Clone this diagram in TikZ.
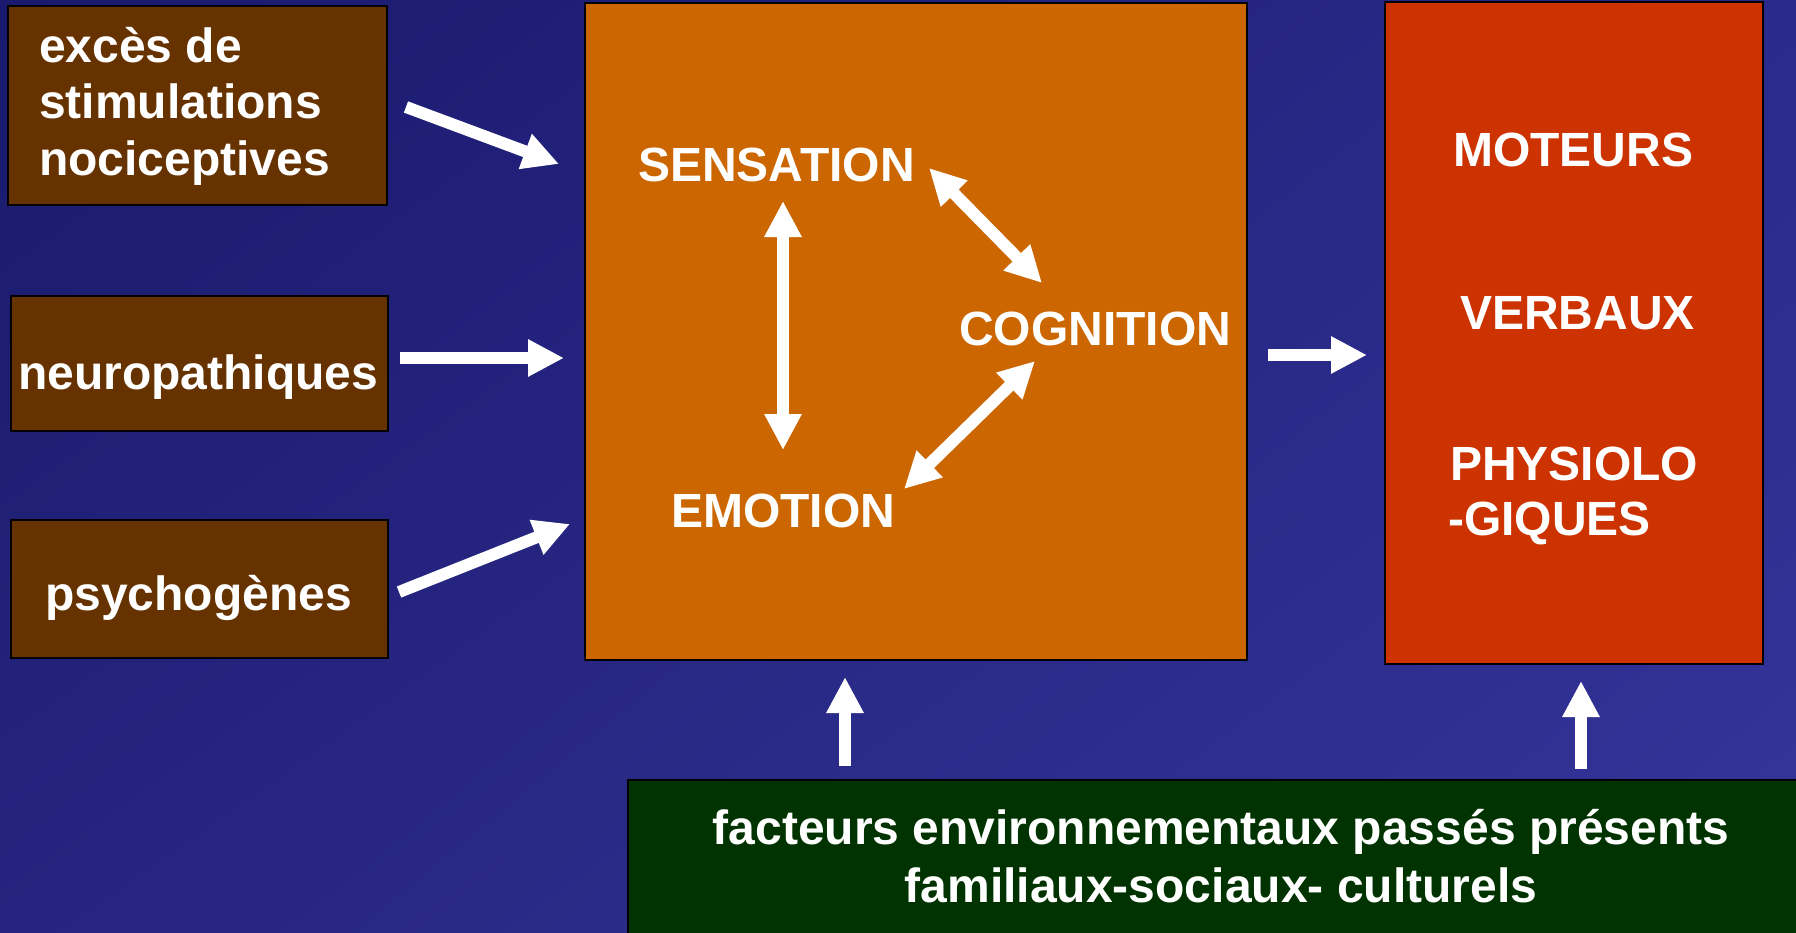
\documentclass[tikz,border=0pt]{standalone}
\usepackage{fontspec}
\setmainfont{Liberation Sans}
\usetikzlibrary{arrows.meta,shadings}
\definecolor{bgUL}{HTML}{19196D}
\definecolor{bgUR}{HTML}{2A2A8A}
\definecolor{bgLL}{HTML}{25257F}
\definecolor{bgLR}{HTML}{35359B}
\definecolor{brownbox}{HTML}{663300}
\definecolor{orangebox}{HTML}{CC6600}
\definecolor{redbox}{HTML}{CC3300}
\definecolor{greenbox}{HTML}{003300}
\tikzset{
  box/.style={draw=black, line width=2pt, inner sep=0pt},
  lbl/.style={text=white, font=\fontsize{48}{56}\selectfont\bfseries, inner sep=0pt, anchor=base west},
  lblc/.style={lbl, anchor=base},
  bigarrow/.style={draw=white, line width=12pt, -{Triangle[length=36pt,width=35pt]}},
  dblarrow/.style={draw=white, line width=12pt, {Triangle[length=36pt,width=35pt]}-{Triangle[length=36pt,width=35pt]}},
}
\begin{document}
\begin{tikzpicture}[x=1pt,y=-1pt]
\useasboundingbox (0,0) rectangle (1796,932);
\shade[upper left=bgUL, upper right=bgUR, lower left=bgLL, lower right=bgLR] (0,0) rectangle (1796,932);

% boxes
\node[box, fill=brownbox, minimum width=379pt, minimum height=199pt] (b1) at (197.5,105.5) {};
\node[box, fill=brownbox, minimum width=377pt, minimum height=135pt] (b2) at (199.5,363.5) {};
\node[box, fill=brownbox, minimum width=377pt, minimum height=138pt] (b3) at (199.5,589) {};
\node[box, fill=orangebox, minimum width=662pt, minimum height=657pt] (core) at (916,331.5) {};
\node[box, fill=redbox, minimum width=378pt, minimum height=662pt] (out) at (1574,333) {};
\node[box, fill=greenbox, minimum width=1180pt, minimum height=170pt] (env) at (1218,865) {};

% texts
\node[lbl] (t1a) at (39,62) {excès de};
\node[lbl] (t1b) at (39,118) {stimulations};
\node[lbl] (t1c) at (39,175) {nociceptives};
\node[lbl] (t2) at (18,389) {neuropathiques};
\node[lbl] (t3) at (45,610) {psychogènes};
\node[lbl] (sens) at (638,181) {SENSATION};
\node[lbl] (cogn) at (959,345) {COGNITION};
\node[lbl] (emot) at (671,527) {EMOTION};
\node[lbl] (mot) at (1453,166) {MOTEURS};
\node[lbl] (verb) at (1460,329) {VERBAUX};
\node[lbl] (phys1) at (1450,480) {PHYSIOLO};
\node[lbl] (phys2) at (1448,535) {-GIQUES};
\node[lblc] (env1) at (1221,844) {facteurs environnementaux passés présents};
\node[lblc] (env2) at (1221,902) {familiaux-sociaux- culturels};

% arrow end points
\coordinate (a1s) at (406,107);  \coordinate (a1e) at (559,164);
\coordinate (a2s) at (400,358);  \coordinate (a2e) at (564,358);
\coordinate (a3s) at (399,592);  \coordinate (a3e) at (570,524);
\coordinate (a4s) at (1268,355); \coordinate (a4e) at (1367,355);
\coordinate (se1) at (783,201);  \coordinate (se2) at (783,450);
\coordinate (sc1) at (929,168);  \coordinate (sc2) at (1042,283);
\coordinate (ce1) at (1035,361); \coordinate (ce2) at (904,489);
\coordinate (g1s) at (845,766);  \coordinate (g1e) at (845,677);
\coordinate (g2s) at (1581,769); \coordinate (g2e) at (1581,681);

% arrows
\draw[bigarrow] (a1s) -- (a1e);
\draw[bigarrow] (a2s) -- (a2e);
\draw[bigarrow] (a3s) -- (a3e);
\draw[bigarrow] (a4s) -- (a4e);
\draw[dblarrow] (se1) -- (se2);
\draw[dblarrow] (sc1) -- (sc2);
\draw[dblarrow] (ce1) -- (ce2);
\draw[bigarrow] (g1s) -- (g1e);
\draw[bigarrow] (g2s) -- (g2e);
\end{tikzpicture}
\end{document}
